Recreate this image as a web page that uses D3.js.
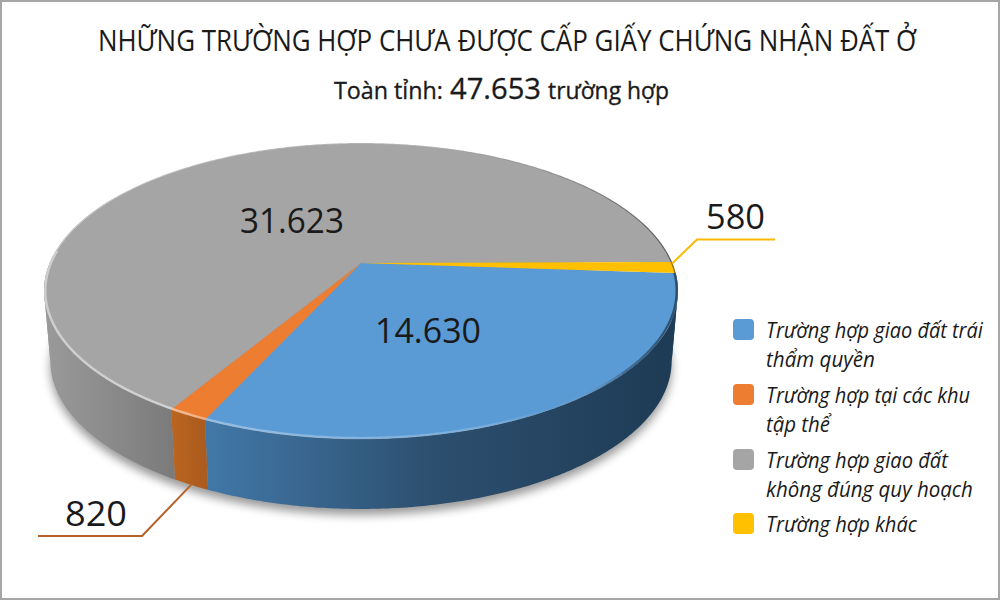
<!DOCTYPE html>
<html>
<head>
<meta charset="utf-8">
<script src="https://cdnjs.cloudflare.com/ajax/libs/d3/7.8.5/d3.min.js"></script>
<style>
  html, body { margin: 0; padding: 0; background: #fff; }
  svg { display: block; }
  text { font-family: "Open Sans", "Noto Sans", sans-serif; fill: #1a1a1a; }
  .sub { stroke: #1a1a1a; stroke-width: 0.35px; }
  .leg { font-style: italic; }
</style>
</head>
<body>
<svg id="chart" width="1000" height="600"></svg>
<script>
// data
const categories = ["Trường hợp giao đất trái thẩm quyền", "Trường hợp tại các khu tập thể", "Trường hợp giao đất không đúng quy hoạch", "Trường hợp khác"];
const values = [14630, 820, 31623, 580];
const valueLabels = ["14.630", "820", "31.623", "580"];
const legendLines = [["Trường hợp giao đất trái", "thẩm quyền"], ["Trường hợp tại các khu", "tập thể"], ["Trường hợp giao đất", "không đúng quy hoạch"], ["Trường hợp khác"]];

const colors = ["#5b9bd5", "#ed7d31", "#a5a5a5", "#ffc000"];
// wall shading, left to right
const wallShades = [["#4278a8", "#2d4f6f", "#1e3c56"], ["#bb6420", "#b05e1e", "#a85a1e"], ["#9a9a9a", "#8b8b8b", "#7a7a7a"]];
const wallRange = [[205, 660], [175, 212], [44, 175]];

const width = 1000;
const height = 600;
const svg = d3.select("#chart");

// tilted disc: unit circle -> screen with a bit of perspective
const cx = 361, apexY = 263, tilt = 93, persp = -0.189, spread = 311.3;
const depth = 70, lowerScale = 0.98;
const project = (angle, r = 1) => {
  const X = r * Math.sin(angle), Y = -r * Math.cos(angle), d = 1 + persp * Y;
  return [cx + spread * X / d, (tilt * Y + apexY) / d];
};
const projectLow = (angle) => {
  const p = project(angle);
  return [cx + (p[0] - cx) * lowerScale, p[1] + depth];
};
const sample = (a0, a1) => d3.range(a0, a1, 0.01).concat(a1);
const rad = d3.scaleLinear().domain([0, 360]).range([0, 2 * Math.PI]);

const start = rad(94);
const wallEnd = rad(300); // nothing behind this shows
const slices = d3.pie().sort(null).startAngle(start).endAngle(start + 2 * Math.PI)(values);
const line = d3.line();
const full = d3.range(0, 2 * Math.PI, 0.01);

// walls are cut where the disc edge turns away, else the outline gets a notch
const turns = [rad(101), rad(259)];
const wallPieces = [];
slices.forEach((d, i) => {
  const end = Math.min(d.endAngle, wallEnd);
  if (d.startAngle >= end) return;
  const cuts = [d.startAngle].concat(turns.filter(t => t > d.startAngle && t < end), end);
  d3.pairs(cuts).forEach(c => wallPieces.push({ a0: c[0], a1: c[1], i: i }));
});

const defs = svg.append("defs");
defs.append("filter").attr("id", "soft").attr("x", "-10%").attr("y", "-10%").attr("width", "120%").attr("height", "130%")
  .append("feGaussianBlur").attr("stdDeviation", 5);
defs.append("filter").attr("id", "rimBlur").attr("x", "-5%").attr("y", "-5%").attr("width", "110%").attr("height", "110%")
  .append("feGaussianBlur").attr("stdDeviation", 0.6);

wallShades.forEach((s, i) => {
  const g = defs.append("linearGradient").attr("id", "wall" + i)
    .attr("gradientUnits", "userSpaceOnUse")
    .attr("x1", wallRange[i][0]).attr("x2", wallRange[i][1])
    .attr("y1", 0).attr("y2", 0);
  s.forEach((c, j) => {
    g.append("stop").attr("offset", j / 2).attr("stop-color", c);
  });
});
const addRim = (id, stops) => {
  const g = defs.append("linearGradient").attr("id", id)
    .attr("gradientUnits", "userSpaceOnUse").attr("x1", 44).attr("x2", 678).attr("y1", 0).attr("y2", 0);
  stops.forEach(d => {
    g.append("stop").attr("offset", d[0]).attr("stop-color", d[1]).attr("stop-opacity", d[2]);
  });
};
addRim("rimFront", [[0, "#fff", 0.45], [0.2, "#fff", 0.5], [0.26, "#fff", 0.35], [0.7, "#fff", 0.18], [0.8, "#fff", 0], [0.92, "#000", 0.3], [1, "#000", 0.5]]);
addRim("rimBack", [[0, "#fff", 0.4], [0.6, "#fff", 0.2], [0.75, "#000", 0.08], [1, "#000", 0.45]]);

// frame
svg.append("rect").attr("x", 1).attr("y", 1).attr("width", width - 2).attr("height", height - 2)
  .attr("fill", "#fff").attr("stroke", "#a6a6a6").attr("stroke-width", 2);

// shadow under the disc
svg.append("path")
  .attr("d", line(full.map(projectLow)) + "Z")
  .attr("transform", "translate(0,6)")
  .attr("fill", "#000").attr("opacity", 0.4).attr("filter", "url(#soft)");

// walls first, the top face covers the back ones
svg.selectAll("path.wall").data(wallPieces).enter().append("path")
  .attr("class", "wall")
  .attr("d", d => {
    const a = sample(d.a0, d.a1);
    return line(a.map(t => project(t)).concat(a.slice().reverse().map(projectLow))) + "Z";
  })
  .attr("fill", d => `url(#wall${d.i})`);

// top faces
svg.selectAll("path.top").data(slices).enter().append("path")
  .attr("class", "top")
  .attr("d", d => line([project(0, 0)].concat(sample(d.startAngle, d.endAngle).map(t => project(t)))) + "Z")
  .attr("fill", (d, i) => colors[i]);

// bevel on the edge
svg.append("path")
  .attr("d", line(sample(rad(275), rad(454)).map(t => project(t, 0.998))))
  .attr("fill", "none").attr("stroke", "url(#rimBack)").attr("stroke-width", 1.2).attr("filter", "url(#rimBlur)");
svg.append("path")
  .attr("d", line(sample(rad(94), rad(275)).map(t => project(t, 0.996))))
  .attr("fill", "none").attr("stroke", "url(#rimFront)").attr("stroke-width", 2.4).attr("filter", "url(#rimBlur)");

// leader lines
const mid = d => (d.startAngle + d.endAngle) / 2;
const yellowTip = project(mid(slices[3]) - 0.03);
const orangeTip = projectLow(mid(slices[1]));
svg.append("path")
  .attr("d", line([yellowTip, [697, 239.5], [775, 239.5]]))
  .attr("fill", "none").attr("stroke", "#fbb900").attr("stroke-width", 2);
svg.append("path")
  .attr("d", line([orangeTip, [142, 536], [38, 536]]))
  .attr("fill", "none").attr("stroke", "#b5622a").attr("stroke-width", 2);

// squeeze a text to the width it has in the picture
const fitText = (parent, str, x, y, w, size, cls) => {
  const t = parent.append("text").attr("class", cls || null).attr("font-size", size).text(str);
  const k = w / t.node().getComputedTextLength();
  t.attr("transform", `translate(${x},${y}) scale(${k},1)`);
  return t;
};

// value labels
const labelPos = [[375, 343, 106], [65, 526, 62], [240, 233, 104], [706, 229, 59]];
valueLabels.forEach((d, i) => {
  fitText(svg, d, labelPos[i][0], labelPos[i][1], labelPos[i][2], 35, "value");
});

// title
fitText(svg, "NHỮNG TRƯỜNG HỢP CHƯA ĐƯỢC CẤP GIẤY CHỨNG NHẬN ĐẤT Ở", 98, 51, 819, 30);
fitText(svg, "Toàn tỉnh:", 334, 99, 109, 24, "sub");
fitText(svg, "47.653", 450, 99, 91, 29, "sub");
fitText(svg, "trường hợp", 548, 99, 121, 24, "sub");

// legend
const legendY = [319, 384, 449, 513];
const legendWidths = [[217, 109], [204, 64], [182, 207], [151]];
const legend = svg.selectAll("g.legend").data(categories).enter().append("g")
  .attr("class", "legend")
  .attr("transform", (d, i) => `translate(733,${legendY[i]})`);
legend.append("rect").attr("width", 21).attr("height", 21).attr("rx", 4)
  .attr("fill", (d, i) => colors[i]);
legend.each(function (d, i) {
  legendLines[i].forEach((t, j) => {
    fitText(d3.select(this), t, 33, 18.5 + j * 29.5, legendWidths[i][j], 22, "leg");
  });
});
</script>
</body>
</html>
